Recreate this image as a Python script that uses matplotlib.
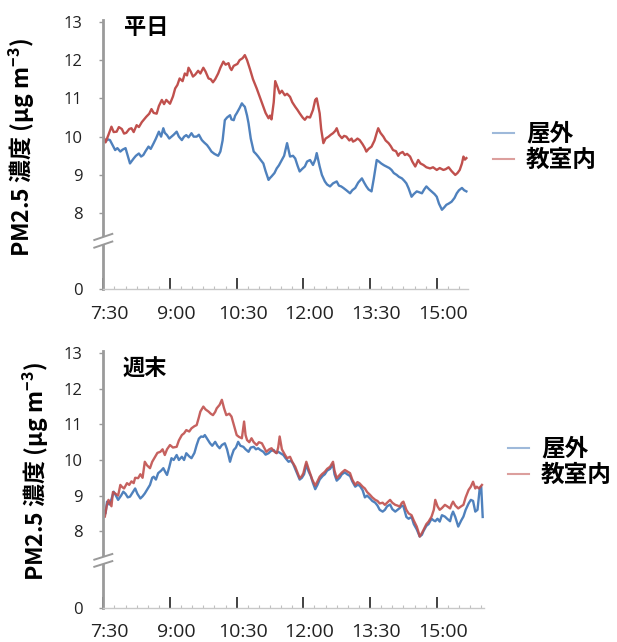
import numpy as np
import matplotlib
matplotlib.use("Agg")
import matplotlib.pyplot as plt
from matplotlib.transforms import blended_transform_factory, ScaledTranslation

# ---------------- data (minutes after 7:30, PM2.5 ug/m3) ----------------
x_tick_min = [0, 90, 180, 270, 360, 450]
x_tick_lbl = ["7:30", "9:00", "10:30", "12:00", "13:30", "15:00"]
y_ticks = [0, 8, 9, 10, 11, 12, 13]
series_names = ["屋外", "教室内"]

# Weekday indoor (教室内)
wd_in_t = [0, 3, 7, 11, 14, 18, 21, 25, 28, 31, 35, 38, 41, 45, 48, 52, 55, 58, 62, 65, 68, 72, 75, 79, 82, 85, 88, 90,
           94, 97, 100, 103, 107, 110, 113, 115, 118, 121, 124, 128, 131, 135, 138, 142, 145, 148, 151, 155, 158, 162,
           165, 169, 171, 173, 176, 178, 181, 184, 188, 191, 194, 198, 202, 207, 211, 216, 219, 223, 225, 227, 230,
           232, 235, 238, 241, 245, 248, 252, 255, 259, 262, 265, 269, 272, 275, 279, 283, 286, 288, 290, 292, 294,
           297, 300, 304, 307, 310, 313, 315, 318, 322, 325, 328, 332, 335, 337, 340, 343, 346, 350, 353, 355, 358,
           362, 366, 369, 371, 374, 378, 381, 385, 388, 391, 395, 398, 400, 404, 407, 410, 414, 417, 421, 425, 428,
           432, 436, 441, 445, 450, 454, 459, 462, 466, 470, 475, 478, 481, 484, 486, 488, 490]
wd_in_v = [10.0, 9.85, 10.05, 10.26, 10.12, 10.13, 10.25, 10.2, 10.08, 10.1, 10.2, 10.22, 10.12, 10.3, 10.25, 10.38,
           10.45, 10.52, 10.6, 10.72, 10.62, 10.6, 10.8, 10.96, 10.85, 10.96, 10.9, 10.86, 11.05, 11.26, 11.35, 11.52,
           11.45, 11.65, 11.6, 11.8, 11.7, 11.57, 11.62, 11.72, 11.65, 11.8, 11.7, 11.52, 11.5, 11.42, 11.5, 11.65,
           11.8, 11.96, 11.88, 11.92, 11.8, 11.74, 11.85, 11.87, 11.9, 12.0, 12.05, 12.13, 12.0, 11.76, 11.5, 11.26,
           11.05, 10.78, 10.62, 10.48, 10.55, 10.45, 10.9, 11.45, 11.3, 11.13, 11.2, 11.08, 11.12, 11.04, 10.9, 10.78,
           10.7, 10.61, 10.5, 10.44, 10.52, 10.5, 10.7, 10.96, 11.0, 10.8, 10.61, 10.2, 9.83, 9.95, 10.0, 10.05, 10.09,
           10.15, 10.22, 10.05, 9.96, 10.02, 10.0, 9.9, 9.95, 9.87, 9.9, 9.95, 9.91, 9.8, 9.7, 9.61, 9.68, 9.74, 9.9,
           10.1, 10.22, 10.1, 10.0, 9.9, 9.83, 9.75, 9.65, 9.62, 9.5, 9.56, 9.6, 9.52, 9.55, 9.48, 9.35, 9.22, 9.39,
           9.3, 9.26, 9.2, 9.17, 9.2, 9.13, 9.18, 9.13, 9.15, 9.2, 9.1, 9.0, 9.05, 9.13, 9.3, 9.48, 9.4, 9.44]

# Weekday outdoor (屋外)
wd_out_t = [0, 3, 6, 9, 12, 16, 19, 23, 26, 30, 33, 36, 39, 41, 44, 48, 51, 54, 57, 61, 64, 68, 71, 75, 78, 81, 83, 86,
            89, 92, 95, 99, 102, 106, 109, 112, 115, 119, 122, 126, 129, 133, 136, 140, 143, 146, 150, 153, 155, 158,
            161, 164, 167, 171, 173, 176, 178, 180, 184, 187, 189, 191, 194, 196, 199, 203, 206, 209, 212, 216, 219,
            223, 225, 227, 231, 234, 237, 241, 244, 248, 250, 252, 256, 259, 262, 265, 268, 272, 275, 279, 283, 286,
            288, 290, 292, 295, 299, 302, 306, 310, 315, 318, 321, 324, 328, 333, 336, 340, 344, 349, 352, 355, 358,
            362, 365, 369, 372, 375, 379, 382, 386, 389, 392, 396, 399, 403, 406, 409, 412, 416, 419, 423, 426, 430,
            433, 436, 440, 443, 447, 450, 453, 457, 460, 463, 466, 470, 474, 477, 480, 484, 487, 490]
wd_out_v = [10.0, 9.87, 9.93, 9.91, 9.8, 9.65, 9.7, 9.61, 9.66, 9.7, 9.5, 9.3, 9.38, 9.43, 9.5, 9.56, 9.48, 9.52, 9.62,
            9.74, 9.68, 9.83, 9.95, 10.13, 10.0, 10.22, 10.1, 10.04, 9.95, 10.0, 10.05, 10.13, 10.0, 9.91, 10.0, 10.04,
            9.98, 10.09, 10.0, 10.0, 10.05, 9.91, 9.85, 9.78, 9.7, 9.61, 9.55, 9.52, 9.5, 9.61, 9.9, 10.43, 10.5,
            10.56, 10.45, 10.43, 10.55, 10.61, 10.75, 10.87, 10.82, 10.78, 10.55, 10.35, 9.95, 9.61, 9.55, 9.48, 9.4,
            9.3, 9.1, 8.87, 8.92, 8.96, 9.05, 9.17, 9.25, 9.39, 9.5, 9.83, 9.65, 9.48, 9.5, 9.43, 9.25, 9.09, 9.15,
            9.22, 9.35, 9.39, 9.26, 9.4, 9.57, 9.4, 9.22, 9.0, 8.83, 8.75, 8.7, 8.78, 8.83, 8.72, 8.7, 8.66, 8.6, 8.52,
            8.6, 8.66, 8.8, 8.91, 8.8, 8.7, 8.62, 8.57, 8.9, 9.39, 9.35, 9.3, 9.25, 9.22, 9.18, 9.13, 9.05, 9.0, 8.95,
            8.91, 8.85, 8.78, 8.65, 8.43, 8.5, 8.57, 8.55, 8.52, 8.62, 8.7, 8.62, 8.57, 8.5, 8.43, 8.25, 8.09, 8.15,
            8.22, 8.25, 8.3, 8.4, 8.52, 8.6, 8.66, 8.6, 8.57]

# Weekend indoor (教室内)
we_in_t = [0, 2, 5, 7, 11, 13, 16, 20, 23, 25, 28, 32, 35, 38, 41, 43, 47, 50, 53, 56, 59, 63, 66, 70, 73, 77, 80, 83,
           86, 90, 94, 99, 102, 106, 109, 112, 116, 119, 123, 126, 129, 131, 135, 138, 142, 145, 148, 151, 153, 157,
           160, 163, 166, 170, 173, 176, 180, 183, 187, 190, 192, 194, 197, 200, 203, 207, 210, 214, 217, 220, 224,
           227, 230, 234, 236, 238, 241, 245, 248, 252, 255, 259, 262, 265, 268, 270, 272, 274, 277, 279, 282, 286,
           289, 292, 295, 299, 302, 306, 310, 312, 315, 319, 322, 326, 329, 333, 336, 340, 343, 346, 350, 353, 356,
           360, 363, 367, 370, 373, 377, 380, 383, 387, 390, 394, 397, 400, 403, 405, 409, 412, 416, 419, 423, 425,
           427, 430, 432, 436, 439, 443, 446, 448, 451, 454, 457, 461, 464, 468, 470, 472, 475, 479, 483, 486, 489,
           493, 496, 499, 502, 504, 507, 511]
we_in_v = [8.45, 8.4, 8.75, 8.88, 8.7, 9.1, 9.06, 9.0, 9.3, 9.25, 9.2, 9.35, 9.3, 9.4, 9.35, 9.5, 9.49, 9.6, 9.5, 9.95,
           9.85, 9.77, 9.95, 10.09, 10.2, 10.23, 10.3, 10.14, 10.3, 10.42, 10.35, 10.37, 10.55, 10.7, 10.75, 10.84,
           10.8, 10.89, 10.95, 10.98, 11.2, 11.36, 11.5, 11.42, 11.36, 11.3, 11.26, 11.35, 11.45, 11.55, 11.69, 11.45,
           11.26, 11.3, 11.22, 11.0, 10.7, 10.65, 10.61, 11.08, 10.7, 10.56, 10.5, 10.61, 10.5, 10.42, 10.5, 10.47,
           10.35, 10.23, 10.3, 10.33, 10.25, 10.19, 10.35, 10.66, 10.3, 10.15, 10.05, 10.09, 9.95, 9.81, 9.65, 9.49,
           9.55, 9.63, 9.8, 9.95, 9.75, 9.63, 9.45, 9.28, 9.4, 9.53, 9.6, 9.67, 9.75, 9.81, 9.95, 9.7, 9.49, 9.58,
           9.65, 9.72, 9.68, 9.63, 9.45, 9.3, 9.38, 9.34, 9.25, 9.2, 9.1, 9.02, 8.95, 8.88, 8.85, 8.78, 8.8, 8.74,
           8.8, 8.88, 8.8, 8.74, 8.72, 8.69, 8.8, 8.83, 8.6, 8.5, 8.45, 8.3, 8.13, 8.0, 7.85, 7.95, 8.03, 8.2, 8.27,
           8.41, 8.6, 8.88, 8.7, 8.6, 8.65, 8.74, 8.7, 8.64, 8.75, 8.83, 8.72, 8.64, 8.7, 8.74, 8.95, 9.16, 9.25, 9.39,
           9.2, 9.25, 9.2, 9.3]

# Weekend outdoor (屋外)
we_out_t = [0, 3, 5, 8, 11, 14, 17, 20, 24, 27, 30, 33, 36, 40, 43, 46, 50, 53, 56, 60, 63, 66, 68, 71, 74, 78, 81, 84,
            86, 89, 92, 95, 99, 102, 106, 109, 112, 116, 119, 123, 126, 129, 132, 135, 137, 140, 144, 147, 151, 154,
            157, 160, 164, 167, 171, 173, 176, 179, 182, 185, 189, 192, 196, 199, 203, 206, 209, 212, 216, 219, 223,
            226, 230, 233, 236, 240, 243, 246, 250, 253, 256, 259, 262, 265, 268, 271, 274, 277, 280, 283, 286, 289,
            292, 296, 299, 302, 306, 310, 312, 315, 319, 322, 326, 329, 333, 336, 340, 343, 346, 350, 353, 356, 360,
            363, 367, 370, 373, 377, 380, 383, 387, 390, 394, 397, 400, 403, 405, 409, 412, 416, 419, 423, 425, 427,
            430, 432, 436, 439, 443, 446, 448, 451, 454, 457, 461, 464, 468, 470, 472, 475, 479, 483, 486, 489, 493,
            496, 499, 502, 505, 508, 510, 512]
we_out_v = [8.6, 8.5, 8.83, 8.75, 8.9, 9.11, 9.0, 8.88, 9.0, 9.11, 9.05, 8.95, 8.97, 9.1, 9.2, 9.05, 8.92, 8.98, 9.06,
            9.2, 9.3, 9.5, 9.53, 9.45, 9.63, 9.7, 9.77, 9.65, 9.58, 9.8, 10.05, 10.0, 10.14, 10.0, 10.09, 10.0, 10.19,
            10.1, 10.05, 10.2, 10.42, 10.6, 10.66, 10.65, 10.7, 10.6, 10.47, 10.4, 10.51, 10.4, 10.33, 10.42, 10.47,
            10.3, 9.95, 10.1, 10.28, 10.35, 10.51, 10.4, 10.37, 10.3, 10.23, 10.35, 10.37, 10.3, 10.33, 10.28, 10.23,
            10.15, 10.19, 10.25, 10.28, 10.2, 10.23, 10.18, 10.14, 10.05, 9.95, 9.98, 9.9, 9.75, 9.6, 9.45, 9.5, 9.6,
            9.88, 9.68, 9.55, 9.35, 9.18, 9.3, 9.45, 9.55, 9.6, 9.7, 9.75, 9.88, 9.6, 9.42, 9.5, 9.6, 9.65, 9.6, 9.55,
            9.4, 9.25, 9.3, 9.28, 9.15, 8.95, 9.0, 8.92, 8.85, 8.8, 8.72, 8.6, 8.55, 8.6, 8.7, 8.75, 8.62, 8.55, 8.6,
            8.65, 8.72, 8.7, 8.4, 8.35, 8.4, 8.2, 8.05, 7.95, 7.85, 7.9, 8.0, 8.15, 8.2, 8.35, 8.3, 8.28, 8.35, 8.27,
            8.45, 8.41, 8.35, 8.28, 8.45, 8.55, 8.4, 8.13, 8.3, 8.41, 8.6, 8.78, 8.88, 8.85, 8.55, 8.6, 9.2, 9.25, 8.4]

# ---------------- styling ----------------
C_OUT = "#4F81BD"
C_IN = "#C0504D"
JP = ["Noto Sans CJK JP", "DejaVu Sans"]
NUM = ["Open Sans", "DejaVu Sans"]

fig = plt.figure(figsize=(6.17, 6.42), dpi=100)
W, H = 617.0, 642.0
PX_PER_MIN = 0.741
X0 = 103.3


def make_scale(A):
    def fwd(v):
        v = np.asarray(v, float)
        return np.where(v >= 7, v, A + v * (7 - A) / 7.0)

    def inv(u):
        u = np.asarray(u, float)
        return np.where(u >= 7, u, (u - A) * 7.0 / (7 - A))

    return fwd, inv


def setup(ax, A, xmax, xpad, title, title_xy, ylab_xy, leg_xy, brk):
    ax.set_yscale("function", functions=make_scale(A))
    ax.set_ylim(0, 13.05)
    ax.set_xlim(0, xmax)
    for s in ("top", "right"):
        ax.spines[s].set_visible(False)
    ax.spines["left"].set_color("#9a9a9a")
    ax.spines["left"].set_linewidth(2.0)
    ax.spines["bottom"].set_color("#c8c8c8")
    ax.spines["bottom"].set_linewidth(1.0)
    ax.set_yticks(y_ticks)
    ax.set_yticklabels([str(v) for v in y_ticks], fontfamily=NUM, fontsize=12)
    ax.yaxis.set_minor_locator(matplotlib.ticker.NullLocator())
    ax.tick_params(axis="y", direction="out", length=3, width=1, color="#9a9a9a", pad=12, labelcolor="#222222")
    ax.set_xticks(x_tick_min)
    ax.set_xticklabels(x_tick_lbl, fontfamily=NUM, fontsize=14)
    ax.set_xticks(np.arange(0, xmax, 15), minor=True)
    ax.tick_params(axis="x", which="major", direction="in", length=8, width=1.3, color="#333333",
                   pad=xpad, labelcolor="#222222")
    ax.tick_params(axis="x", which="minor", direction="in", length=2.5, width=0.8, color="#c0c0c0")
    for lab in ax.get_xticklabels():
        lab.set_transform(lab.get_transform() + ScaledTranslation(6 / 100, 0, fig.dpi_scale_trans))
    # axis break marks
    tr = blended_transform_factory(ax.transAxes, ax.transData)
    dx = 9.0 / (ax.get_position().width * W)
    ax.fill([-dx, dx, dx, -dx], [brk - 0.1, brk + 0.06, brk + 0.26, brk + 0.1], color="white",
            transform=tr, clip_on=False, zorder=5, lw=0)
    ax.plot([-dx, dx], [brk - 0.1, brk + 0.06], color="#9a9a9a", lw=1.4, transform=tr, clip_on=False, zorder=6)
    ax.plot([-dx, dx], [brk + 0.1, brk + 0.26], color="#9a9a9a", lw=1.4, transform=tr, clip_on=False, zorder=6)
    fig.text(title_xy[0] / W, 1 - title_xy[1] / H, title, fontfamily=JP, fontsize=16, fontweight="bold",
             va="center", ha="left")
    fig.text(ylab_xy[0] / W, 1 - ylab_xy[1] / H, "PM2.5 濃度 (μg m$^{\\mathregular{-3}}$)", fontfamily=JP,
             fontsize=16.5, fontweight="bold", rotation=90, ha="center", va="center")
    leg = ax.legend(loc="center left", bbox_to_anchor=(leg_xy[0] / W, 1 - leg_xy[1] / H),
                    bbox_transform=fig.transFigure, frameon=False, handlelength=0.9, handletextpad=0.5,
                    labelspacing=0.1, borderpad=0, borderaxespad=0,
                    prop={"family": JP, "size": 17, "weight": "bold"})
    for h in leg.get_lines():
        h.set_alpha(0.55)
        h.set_linewidth(1.5)


# top panel: weekday
ax1 = fig.add_axes([X0 / W, 1 - 289 / H, 492 * PX_PER_MIN / W, 269.1 / H])
ax1.plot(wd_out_t, wd_out_v, color=C_OUT, lw=1.7, label=series_names[0])
ax1.plot(wd_in_t, wd_in_v, color=C_IN, lw=1.7, label=series_names[1])
setup(ax1, 6.02, 492, 11.5, "平日", (124, 27), (22, 148), (493, 147), 7.2)

# bottom panel: weekend
ax2 = fig.add_axes([X0 / W, 1 - 607.5 / H, 514 * PX_PER_MIN / W, 256.1 / H])
ax2.plot(we_out_t, we_out_v, color=C_OUT, lw=1.7, label=series_names[0])
ax2.plot(we_in_t, we_in_v, color=C_IN, lw=1.7, alpha=0.9, label=series_names[1])
setup(ax2, 5.857, 514, 11.0, "週末", (123, 369), (36, 472), (508, 462), 7.1)

fig.savefig("out.png", dpi=100)
